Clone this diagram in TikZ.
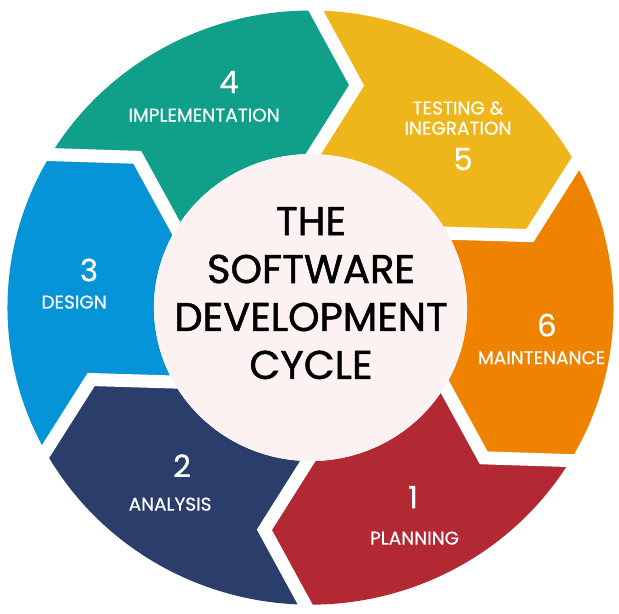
\documentclass[tikz,border=0pt]{standalone}
\usepackage{fontspec}
\setmainfont{Poppins}
\newfontfamily\titlefont{Poppins}[FakeBold=1.3]
\newfontfamily\lblfont{Poppins}[FakeBold=0.6]
\usepackage{xcolor}
\definecolor{PlanRed}{HTML}{B22833}
\definecolor{AnalysisNavy}{HTML}{2B3D6B}
\definecolor{DesignBlue}{HTML}{0594D8}
\definecolor{ImplTeal}{HTML}{10A08A}
\definecolor{TestYellow}{HTML}{EEB61B}
\definecolor{MaintOrange}{HTML}{EF8300}
\definecolor{DiskPink}{HTML}{FDF2F2}
\usetikzlibrary{positioning}

\begin{document}
\begin{tikzpicture}[
  x=0.0202cm, y=0.0198cm,
  % Nummer im Ringsegment
  segnum/.style={
    font=\lblfont\fontsize{17.5}{20}\selectfont,
    text=white,
    inner sep=0pt
  },
  % Beschriftung im Ringsegment
  seglbl/.style={
    font=\lblfont\fontsize{10.5}{12.5}\selectfont,
    text=white,
    align=center,
    inner sep=0pt
  },
  % weisse Fuge zwischen zwei Segmenten
  gapline/.style={
    draw=white,
    line width=0.26cm,
    shorten <=-0.3cm,
    shorten >=-0.3cm
  },
  % Titel in der Mitte
  titletxt/.style={
    font=\titlefont\fontsize{22.8}{27.3}\selectfont,
    text=black,
    align=center,
    inner sep=0pt
  }
]

% =============================================================================
% RAHMEN
% =============================================================================
\useasboundingbox[fill=white] (-307.4,-308.6) rectangle (305.4,310.6);

% =============================================================================
% RINGSEGMENTE (Pfeilspitzen im Uhrzeigersinn)
% =============================================================================
% 1 Planning
\fill[PlanRed] (329:300) arc[start angle=329, end angle=269, radius=300]
  -- (258.5:229) -- (269:155) arc[start angle=269, end angle=329, radius=155]
  -- (318.5:229) -- cycle;
% 2 Analysis
\fill[AnalysisNavy] (269:300) arc[start angle=269, end angle=209, radius=300]
  -- (198.5:229) -- (209:155) arc[start angle=209, end angle=269, radius=155]
  -- (258.5:229) -- cycle;
% 3 Design
\fill[DesignBlue] (209:300) arc[start angle=209, end angle=149, radius=300]
  -- (138.5:229) -- (149:155) arc[start angle=149, end angle=209, radius=155]
  -- (198.5:229) -- cycle;
% 4 Implementation
\fill[ImplTeal] (149:300) arc[start angle=149, end angle=89, radius=300]
  -- (78.5:229) -- (89:155) arc[start angle=89, end angle=149, radius=155]
  -- (138.5:229) -- cycle;
% 5 Testing
\fill[TestYellow] (89:300) arc[start angle=89, end angle=29, radius=300]
  -- (18.5:229) -- (29:155) arc[start angle=29, end angle=89, radius=155]
  -- (78.5:229) -- cycle;
% 6 Maintenance
\fill[MaintOrange] (29:300) arc[start angle=29, end angle=-31, radius=300]
  -- (-41.5:229) -- (-31:155) arc[start angle=-31, end angle=29, radius=155]
  -- (18.5:229) -- cycle;

% Fugen
\draw[gapline] (29:300) -- (18.5:229) -- (29:155);
\draw[gapline] (89:300) -- (78.5:229) -- (89:155);
\draw[gapline] (149:300) -- (138.5:229) -- (149:155);
\draw[gapline] (209:300) -- (198.5:229) -- (209:155);
\draw[gapline] (269:300) -- (258.5:229) -- (269:155);
\draw[gapline] (329:300) -- (318.5:229) -- (329:155);

% =============================================================================
% ZENTRUM
% =============================================================================
\fill[DiskPink] (0,0) circle[radius=155];
\node[titletxt] (title) at (0.5,14.6) {THE\\SOFTWARE\\DEVELOPMENT\\CYCLE};

% =============================================================================
% BESCHRIFTUNGEN
% =============================================================================
% Planning
\node[segnum] (num1) at (101.5,-191.4) {1};
\node[seglbl] (lbl1) at (103,-232.8) {PLANNING};

% Analysis
\node[segnum] (num2) at (-127.2,-159.7) {2};
\node[seglbl] (lbl2) at (-139,-198.5) {ANALYSIS};

% Design
\node[segnum] (num3) at (-219.3,37.9) {3};
\node[seglbl] (lbl3) at (-234,5.6) {DESIGN};

% Implementation
\node[segnum] (num4) at (-80.7,227.8) {4};
\node[seglbl] (lbl4) at (-105.4,194.4) {IMPLEMENTATION};

% Testing
\node[seglbl] (lbl5) at (146,191.4) {TESTING \&\\[-1pt]INEGRATION};
\node[segnum] (num5) at (151,150) {5};

% Maintenance
\node[segnum] (num6) at (234,-17.7) {6};
\node[seglbl] (lbl6) at (228.7,-50.6) {MAINTENANCE};

\end{tikzpicture}
\end{document}
